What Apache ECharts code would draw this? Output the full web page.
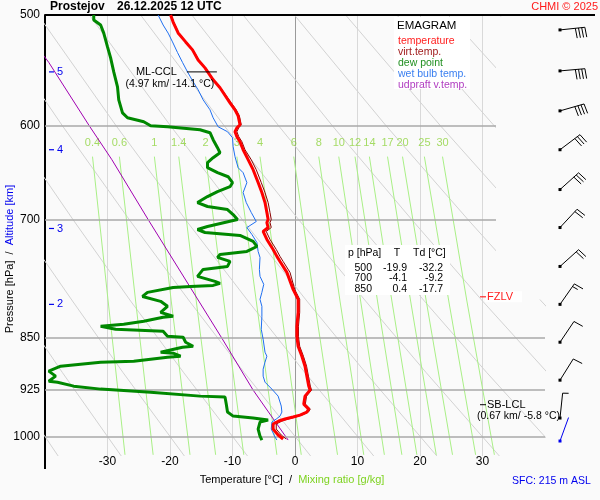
<!DOCTYPE html>
<html>
<head>
<meta charset="utf-8">
<script src="https://cdn.jsdelivr.net/npm/echarts@6.0.0/dist/echarts.min.js"></script>
<style>
html,body{margin:0;padding:0;background:#fafafa;}
#chart{width:600px;height:500px;}
</style>
</head>
<body>
<div id="chart"></div>
<script>
const FONT = "'Liberation Sans', Arial, sans-serif";

// ---------------- data ----------------
const isobarLevels = [500, 600, 700, 850, 925, 1000];
const tempTicks = [-30, -20, -10, 0, 10, 20, 30];

// temperature (red) and virtual temperature (dark red)
const tempP = [500,505.8,515,522.6,529.5,538.3,545.4,556.2,563.5,577.6,584.3,590.1,598.8,601.8,605.7,610.7,615.7,623.9,634.2,644.7,658.5,669.4,680.5,691.7,699.7,703.2,709.0,713.6,723.0,735.0,743.4,749.6,763.2,784.8,797.8,815.0,833.9,847.7,861.7,876.0,890.4,905.1,920.1,926.1,935.3,947.6,955.4,960.1,964.9,968.0,971.2,974.4,979.2,987.3,997.0,1003.6];
const tempT = [-19.9,-19.5,-18.7,-17.5,-16.4,-15.5,-14.4,-13.1,-12.0,-10.4,-9.6,-9.1,-8.8,-9.3,-9.6,-9.3,-8.8,-8.3,-7.5,-6.7,-5.9,-5.3,-4.8,-4.5,-4.3,-4.5,-4.3,-5.1,-4.5,-3.5,-2.9,-2.4,-1.3,-0.3,0.5,0.5,0.3,0.3,0.5,1.1,1.6,1.9,2.2,2.4,1.6,1.4,2.2,1.9,0.8,-0.3,-1.6,-2.6,-3.5,-3.5,-2.7,-1.9];
const virtT = [-19.8,-19.4,-18.6,-17.4,-16.3,-15.4,-14.3,-13.0,-11.9,-10.2,-9.4,-8.9,-8.6,-9.0,-9.3,-9.0,-8.5,-8.0,-7.0,-6.2,-5.4,-4.8,-4.3,-4.0,-3.8,-4.0,-3.8,-4.6,-4.0,-3.0,-2.4,-1.9,-0.8,-0.05,0.75,0.75,0.55,0.55,0.75,1.35,1.85,2.15,2.45,2.65,1.85,1.65,2.45,2.15,1.1,0.1,-1.1,-2.1,-3.0,-3.0,-2.2,-1.4];

// dew point (green)
const dewP = [500.0,504.1,508.3,515.1,526.9,536.5,549.0,562.6,574.8,587.2,592.0,595.9,599.8,600.8,603.7,606.7,613.7,621.8,627.0,632.1,637.3,642.6,647.9,652.2,658.6,663.0,668.3,673.8,680.5,684.9,688.3,694.0,699.7,702.0,707.8,711.3,714.8,718.3,725.4,731.4,737.4,741.0,744.7,749.6,755.8,759.5,768.2,774.6,777.1,779.7,781.0,782.3,788.7,794.0,800.4,807.0,815.0,820.3,821.7,827.1,831.2,833.9,838.0,840.8,847.7,849.1,856.0,861.7,863.1,870.2,871.6,875.9,877.4,883.1,884.6,890.4,897.7,905.1,912.6,914.1,920.1,924.6,929.2,935.3,936.8,947.6,960.1,966.5,969.6,972.8,976.0,987.3,998.7,1005.3];
const dewT = [-32.2,-32.2,-31.1,-30.6,-30.0,-29.5,-29.0,-28.4,-28.2,-27.6,-26.8,-24.2,-23.1,-20.4,-15.2,-13.6,-13.1,-12.4,-12.0,-13.1,-14.0,-14.0,-12.4,-10.7,-10.0,-10.4,-12.4,-14.0,-15.6,-14.0,-10.8,-9.9,-9.2,-9.1,-14.0,-15.6,-14.4,-8.8,-6.7,-6.1,-7.7,-12.0,-12.4,-10.4,-10.8,-14.7,-15.6,-12.8,-12.0,-13.1,-16.7,-19.5,-23.6,-24.4,-21.5,-20.4,-21.5,-19.5,-21.1,-24.2,-27.4,-31.1,-28.7,-21.1,-20.4,-17.9,-17.5,-16.3,-18.0,-21.5,-19.5,-18.3,-20.4,-25.8,-31.1,-37.5,-39.4,-38.3,-39.4,-38.0,-35.4,-31.1,-23.1,-15.2,-11.2,-11.0,-10.8,-9.9,-6.7,-4.3,-5.6,-5.9,-5.6,-5.3];

// wet bulb temperature (blue)
const wetP = [500.0,508.3,515.1,522.6,531.8,540.5,549.0,558.0,565.4,574.8,584.3,592.0,600.8,605.7,611.7,620.8,631.1,642.6,647.9,658.6,669.4,680.5,691.7,702.0,709.0,717.1,726.6,737.4,744.7,759.5,768.2,778.4,788.7,797.8,807.0,820.3,838.0,851.8,870.2,875.9,884.6,894.8,905.1,914.1,924.6,935.3,950.7,960.1,966.5,971.2,976.0,987.3,1000.3,1005.3];
const wetT = [-21.9,-21.1,-20.3,-19.6,-18.8,-18.0,-17.2,-16.3,-15.5,-14.7,-13.6,-13.1,-12.3,-10.8,-10.0,-9.9,-9.6,-9.1,-8.3,-7.7,-8.3,-7.8,-7.0,-6.2,-7.7,-6.9,-6.1,-5.9,-5.6,-5.7,-5.6,-5.0,-5.3,-5.6,-5.3,-5.3,-5.4,-5.1,-4.8,-4.5,-4.8,-5.1,-5.1,-4.8,-3.7,-2.7,-2.2,-2.1,-2.4,-3.0,-3.7,-3.8,-3.2,-2.9];

// updraft virtual temperature (purple)
const parcelP = [525.2,540.5,600.0,634.2,700.9,850.4,926.1,1005.3];
const parcelT = [-41.5,-39.4,-32.9,-29.3,-23.4,-11.7,-6.7,-1.1];

// mixing ratio isopleths (g/kg)
const mixW = ['0.4','0.6','1','1.4','2','3','4','6','8','10','12','14','17','20','25','30'];
const mixBottomP = 1030, mixMidP = 800, mixTopP = 631;
const mixTBottom = [-27.2,-22.7,-16.8,-12.7,-8.2,-2.9,1.0,6.8,11.0,14.3,17.1,19.5,22.6,25.2,28.9,31.9];
const mixTMid = [-29.9,-25.5,-19.8,-15.8,-11.4,-6.2,-2.4,3.1,7.2,10.5,13.2,15.5,18.5,21.0,24.6,27.5];
const mixTTop = [-32.4,-28.1,-22.5,-18.6,-14.3,-9.3,-5.6,-0.2,3.8,7.0,9.6,11.9,14.8,17.2,20.7,23.6];

// dry adiabats (grey), temperature at the pressures in dryP
const dryP = [1032,900,800,700,600,500];
const dryT = [
 [-37.9,-46.9,-54.4,-62.6,-71.7,-82.1],
 [-27.8,-37.2,-45.0,-53.6,-63.1,-73.9],
 [-17.7,-27.5,-35.6,-44.6,-54.5,-65.7],
 [-7.6,-17.8,-26.3,-35.5,-45.8,-57.5],
 [2.5,-8.1,-16.9,-26.5,-37.2,-49.3],
 [12.6,1.6,-7.5,-17.5,-28.6,-41.1],
 [22.7,11.3,1.9,-8.4,-19.9,-32.9],
 [32.7,21.0,11.3,0.6,-11.3,-24.7],
 [42.8,30.7,20.7,9.6,-2.6,-16.5],
 [52.9,40.4,30.0,18.7,6.0,-8.3],
 [63.0,50.1,39.4,27.7,14.6,-0.1],
 [73.1,59.8,48.8,36.7,23.3,8.1],
 [83.2,69.5,58.2,45.8,31.9,16.3],
 [93.3,79.2,67.6,54.8,40.6,24.5],
 [103.4,88.9,77.0,63.8,49.2,32.7]
];

// altitude ticks
const altKm = [2, 3, 4, 5];
const altP = [804.4, 710.1, 623.9, 549.0];

// wind barbs
const barbP = [512.4,548.1,585.3,623.9,666.1,709.0,755.8,804.4,856.0,911.1,969.6];
const barbSpeed = [40,40,40,30,30,20,20,15,10,10,5];
const barbAngle = [6,5,16,37,42,47,42,55,56,58,84];
const sfcBarbP = [1006.9], sfcBarbSpeed = [0], sfcBarbAngle = [70];

// annotations
const cclP = 549.0, cclT = -14.1, cclText = '(4.97 km/ -14.1 °C)';
const fzlvP = 794.5;
const lclP = 948.6, lclText = '(0.67 km/ -5.8 °C)';

// table
const tableP = [500, 700, 850];
const tableT = [-19.9, -4.1, 0.4];
const tableTd = [-32.2, -9.2, -17.7];

// ---------------- chart ----------------
const chart = echarts.init(document.getElementById('chart'));
const series = [];

series.push({
  type:'line', name:'isobars', data: isobarLevels.map(p=>[-40,p]), symbol:'none',
  lineStyle:{opacity:0}, silent:true, z:1, animation:false,
  markLine:{
    silent:true, symbol:['none','none'], animation:false,
    label:{show:true, position:'start', distance:5, formatter:'{b}', color:'#000', fontSize:12, fontFamily:FONT},
    data: isobarLevels.map(p=>({name:String(p), yAxis:p,
      lineStyle: p===500 ? {color:'#000', width:2, type:'solid'} : {color:'#a9a9a9', width:1.5, type:'solid'}}))
  }
});

dryT.forEach((row,i)=>series.push({
  type:'line', name:'dry adiabat '+i, data: row.map((t,j)=>[t, dryP[j]]), symbol:'none',
  silent:true, z:1, lineStyle:{color:'#d2d2d2', width:1}
}));

mixW.forEach((w,i)=>series.push({
  type:'line', name:'mixing ratio '+w,
  data:[[mixTBottom[i],mixBottomP],[mixTMid[i],mixMidP],[mixTTop[i],mixTopP]],
  symbol:'none', silent:true, z:1, lineStyle:{color:'#a9ef86', width:1}
}));

series.push({
  type:'scatter', name:'mixing ratio labels', data: mixTTop.map(t=>[t,mixTopP]),
  symbolSize:1, itemStyle:{color:'rgba(0,0,0,0)'}, silent:true, z:3,
  label:{show:true, position:'top', distance:8, formatter:p=>mixW[p.dataIndex], color:'#8fd33f', fontSize:11, fontFamily:FONT}
});

series.push({type:'line', name:'udpraft v.temp.', data: parcelP.map((p,i)=>[parcelT[i],p]), symbol:'none', z:4, silent:true,
  lineStyle:{color:'#a000b0', width:1}, itemStyle:{color:'#a000b0'}});
series.push({type:'line', name:'wet bulb temp.', data: wetP.map((p,i)=>[wetT[i],p]), symbol:'none', z:5, silent:true,
  lineStyle:{color:'#1f6ff0', width:1}, itemStyle:{color:'#1f6ff0'}});
series.push({type:'line', name:'dew point', data: dewP.map((p,i)=>[dewT[i],p]), symbol:'none', z:6, silent:true,
  lineStyle:{color:'#008800', width:3}, itemStyle:{color:'#008800'}});
series.push({type:'line', name:'virt.temp.', data: tempP.map((p,i)=>[virtT[i],p]), symbol:'none', z:6, silent:true,
  lineStyle:{color:'#8b0000', width:1}, itemStyle:{color:'#8b0000'}});
series.push({type:'line', name:'temperature', data: tempP.map((p,i)=>[tempT[i],p]), symbol:'none', z:7, silent:true,
  lineStyle:{color:'#ff0000', width:3}, itemStyle:{color:'#ff0000'}});

// altitude ticks
series.push({
  type:'custom', name:'altitude', data: altP.map((p,i)=>[-40,p,altKm[i]]), encode:{x:0,y:1}, z:8, silent:true,
  renderItem:(params,api)=>{
    const pt = api.coord([api.value(0), api.value(1)]);
    return {type:'group', children:[
      {type:'line', shape:{x1:pt[0]+4,y1:pt[1],x2:pt[0]+9,y2:pt[1]}, style:{stroke:'#0000ee', lineWidth:1.2}},
      {type:'text', style:{text:String(api.value(2)), x:pt[0]+12, y:pt[1], align:'left', verticalAlign:'middle', textAlign:'left', textVerticalAlign:'middle', fill:'#0000ee', font:'11px '+FONT}}
    ]};
  }
});

// wind barbs
function barbRenderer(color){
  return function(params, api){
    const p = api.value(0), spd = api.value(1), ang = api.value(2);
    const edge = api.coord([40, p]);
    const x = edge[0] + 15, y = edge[1];
    const a = ang*Math.PI/180, L = 25;
    const ux = Math.cos(a), uy = -Math.sin(a);
    const fa = (ang-85)*Math.PI/180, fx = Math.cos(fa), fy = -Math.sin(fa);
    const tx = x+ux*L, ty = y+uy*L;
    const ch = [
      {type:'rect', shape:{x:x-1.5,y:y-1.5,width:3,height:3}, style:{fill:color}},
      {type:'line', shape:{x1:x,y1:y,x2:tx,y2:ty}, style:{stroke:color, lineWidth:1}}
    ];
    let rem = spd, k = 0;
    while (rem >= 10) {
      const bx = tx-ux*k*3.2, by = ty-uy*k*3.2;
      ch.push({type:'line', shape:{x1:bx,y1:by,x2:bx+fx*10,y2:by+fy*10}, style:{stroke:color, lineWidth:1}});
      rem -= 10; k++;
    }
    if (rem >= 5) {
      const bx = tx-ux*k*3.2, by = ty-uy*k*3.2;
      ch.push({type:'line', shape:{x1:bx,y1:by,x2:bx+fx*6,y2:by+fy*6}, style:{stroke:color, lineWidth:1}});
    }
    return {type:'group', children:ch};
  };
}
series.push({type:'custom', name:'wind', data: barbP.map((p,i)=>[p,barbSpeed[i],barbAngle[i]]), encode:{y:0,x:1}, z:8, silent:true, renderItem: barbRenderer('#000')});
series.push({type:'custom', name:'surface wind', data: sfcBarbP.map((p,i)=>[p,sfcBarbSpeed[i],sfcBarbAngle[i]]), encode:{y:0,x:1}, z:8, silent:true, renderItem: barbRenderer('#0000ee')});

// ML-CCL
series.push({
  type:'custom', name:'ML-CCL', data:[[cclT, cclP]], encode:{x:0,y:1}, z:30, silent:true,
  renderItem:(params,api)=>{
    const pt = api.coord([api.value(0), api.value(1)]);
    return {type:'group', children:[
      {type:'line', shape:{x1:pt[0]-20,y1:pt[1],x2:pt[0]+10,y2:pt[1]}, style:{stroke:'#000', lineWidth:1}},
      {type:'text', style:{text:'ML-CCL', x:pt[0]-30, y:pt[1], align:'right', verticalAlign:'middle', textAlign:'right', textVerticalAlign:'middle', fill:'#000', font:'11px '+FONT}},
      {type:'text', style:{text:cclText, x:pt[0]-37, y:pt[1]+12, align:'center', verticalAlign:'middle', textAlign:'center', textVerticalAlign:'middle', fill:'#000', font:'10.5px '+FONT}}
    ]};
  }
});
// FZLV
series.push({
  type:'custom', name:'FZLV', data:[[0, fzlvP]], encode:{x:0,y:1}, z:30, silent:true,
  renderItem:(params,api)=>{
    const pt = api.coord([40, api.value(1)]);
    const x0 = pt[0]-65, y = pt[1];
    return {type:'group', children:[
      {type:'rect', shape:{x:x0+5,y:y-5.5,width:37,height:11}, style:{fill:'#fff'}},
      {type:'line', shape:{x1:x0,y1:y,x2:x0+6,y2:y}, style:{stroke:'#ff0000', lineWidth:1}},
      {type:'text', style:{text:'FZLV', x:x0+7, y:y, align:'left', verticalAlign:'middle', textAlign:'left', textVerticalAlign:'middle', fill:'#ff2020', font:'11px '+FONT}}
    ]};
  }
});
// SB-LCL
series.push({
  type:'custom', name:'SB-LCL', data:[[0, lclP]], encode:{x:0,y:1}, z:30, silent:true,
  renderItem:(params,api)=>{
    const pt = api.coord([40, api.value(1)]);
    const x0 = pt[0]-65, y = pt[1];
    return {type:'group', children:[
      {type:'line', shape:{x1:x0,y1:y,x2:x0+6,y2:y}, style:{stroke:'#000', lineWidth:1}},
      {type:'text', style:{text:'SB-LCL', x:x0+7, y:y, align:'left', verticalAlign:'middle', textAlign:'left', textVerticalAlign:'middle', fill:'#000', font:'11px '+FONT}},
      {type:'text', style:{text:lclText, x:x0-3, y:y+11, align:'left', verticalAlign:'middle', textAlign:'left', textVerticalAlign:'middle', fill:'#000', font:'10.5px '+FONT}}
    ]};
  }
});

// ---------------- graphics (frame & texts) ----------------
function txt(text, x, y, opts){
  opts = opts || {};
  const al = opts.align || 'left';
  return {type:'text', x:x, y:y, z:opts.z||40, silent:true, rotation:opts.rotation||0,
    style:{text:text, fill:opts.color||'#000', font:(opts.font||'11px')+' '+FONT,
      align:al, textAlign:al, verticalAlign:'middle', textVerticalAlign:'middle', rich:opts.rich}};
}
const graphics = [
  {type:'line', z:40, silent:true, shape:{x1:545,y1:15,x2:595,y2:15}, style:{stroke:'#000', lineWidth:2}},
  {type:'line', z:40, silent:true, shape:{x1:45,y1:456,x2:45,y2:469}, style:{stroke:'#000', lineWidth:2}},
  {type:'rect', z:20, silent:true, shape:{x:496,y:16.5,width:50,height:283}, style:{fill:'#fafafa'}},
  {type:'rect', z:20, silent:true, shape:{x:394,y:17,width:76,height:72}, style:{fill:'#ffffff'}},
  txt('EMAGRAM', 397, 26, {font:'11.5px'}),
  {type:'rect', z:20, silent:true, shape:{x:345,y:245,width:105,height:50}, style:{fill:'#ffffff'}},
  txt('p [hPa]', 348, 253, {font:'10.5px'}),
  txt('T', 397, 253, {font:'10.5px', align:'center'}),
  txt('Td [°C]', 413, 253, {font:'10.5px'}),
  txt('Prostejov', 50, 7, {font:'bold 12px'}),
  txt('26.12.2025 12 UTC', 117, 7, {font:'bold 12px'}),
  txt('CHMI © 2025', 598, 7, {font:'11px', align:'right', color:'#ff1a1a'}),
  txt('{a|Pressure [hPa]}  /  {b|Altitude [km]}', 10, 259, {rotation:Math.PI/2, align:'center',
    rich:{a:{fill:'#000', font:'11px '+FONT}, b:{fill:'#0000ee', font:'11px '+FONT}}}),
  txt('{a|Temperature [°C]}  /  {b|Mixing ratio [g/kg]}', 292, 480, {align:'center',
    rich:{a:{fill:'#000', font:'11px '+FONT}, b:{fill:'#7ed321', font:'11px '+FONT}}}),
  txt('SFC: 215 m ASL', 512, 481, {font:'10.5px', color:'#0000ee'})
];
tableP.forEach((p,i)=>{
  const y = 268 + i*10.5;
  graphics.push(txt(String(p), 372, y, {font:'10.5px', align:'right'}));
  graphics.push(txt(tableT[i].toFixed(1), 407, y, {font:'10.5px', align:'right'}));
  graphics.push(txt(tableTd[i].toFixed(1), 443, y, {font:'10.5px', align:'right'}));
});

const splitColors = ['rgba(0,0,0,0)','#d9d9d9','#d9d9d9','#d9d9d9','#9a9a9a','#d9d9d9','#d9d9d9','#d9d9d9','rgba(0,0,0,0)'];

const option = {
  backgroundColor:'#fafafa',
  animation:false,
  grid:{left:45, top:15, width:500, height:441, show:false},
  xAxis:{
    type:'value', min:-40, max:40, interval:10,
    axisLine:{show:false, onZero:false}, axisTick:{show:false},
    axisLabel:{formatter:v=> tempTicks.indexOf(v) >= 0 ? String(v) : '', color:'#000', fontSize:12, fontFamily:FONT, margin:0},
    splitLine:{show:true, lineStyle:{color:splitColors, width:1}}
  },
  yAxis:{
    type:'log', logBase:10, min:500, max:1032, inverse:true,
    axisLine:{show:true, onZero:false, lineStyle:{color:'#000', width:2}},
    axisTick:{show:false}, axisLabel:{show:false}, splitLine:{show:false}, minorSplitLine:{show:false}
  },
  legend:{
    orient:'vertical', left:392, top:36, itemWidth:0, itemHeight:0, itemGap:0, padding:0,
    selectedMode:false, z:30,
    textStyle:{fontSize:10.5, fontFamily:FONT, lineHeight:10},
    data:[
      {name:'temperature', textStyle:{color:'#ff2020'}},
      {name:'virt.temp.', textStyle:{color:'#a01c1c'}},
      {name:'dew point', textStyle:{color:'#229022'}},
      {name:'wet bulb temp.', textStyle:{color:'#3a7ff0'}},
      {name:'udpraft v.temp.', textStyle:{color:'#b03cc0'}}
    ]
  },
  graphic:{elements:graphics},
  series: series
};
chart.setOption(option);
</script>
</body>
</html>
